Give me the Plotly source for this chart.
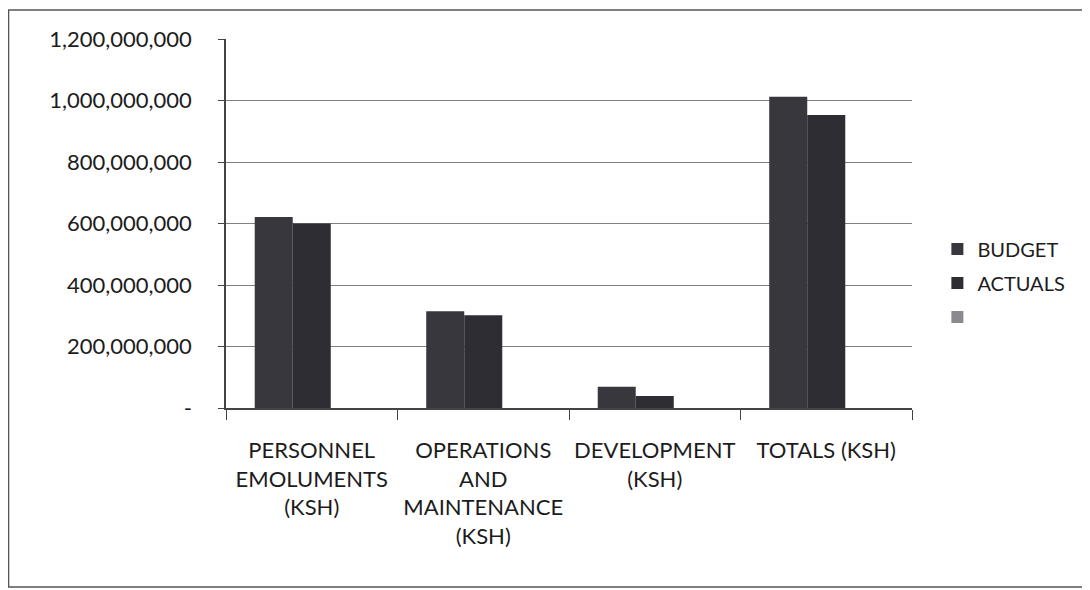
import plotly.graph_objects as go

categories = ["PERSONNEL<br>EMOLUMENTS<br>(KSH)", "OPERATIONS<br>AND<br>MAINTENANCE<br>(KSH)",
              "DEVELOPMENT<br>(KSH)", "TOTALS (KSH)"]
budget = [621_000_000, 315_000_000, 69_000_000, 1_012_000_000]
actuals = [600_000_000, 302_000_000, 39_000_000, 953_000_000]
third = [None, None, None, None]
tick_vals = [0, 200_000_000, 400_000_000, 600_000_000, 800_000_000, 1_000_000_000, 1_200_000_000]
tick_text = ["-", "200,000,000", "400,000,000", "600,000,000", "800,000,000", "1,000,000,000", "1,200,000,000"]

font = "Lato, Open Sans, sans-serif"
txt = "#1c1c1c"

fig = go.Figure()
fig.add_trace(go.Bar(x=categories, y=budget, name="BUDGET", legendgroup="a",
                     marker=dict(color="#37373d", line=dict(width=0))))
fig.add_trace(go.Bar(x=categories, y=actuals, name="ACTUALS", legendgroup="b",
                     marker=dict(color="#2d2d33", line=dict(width=0))))
fig.add_trace(go.Bar(x=categories, y=third, name=" ", legendgroup="c",
                     marker=dict(color="#8a8a8e", line=dict(width=0))))

# browser body margin offsets the figure by 8px; compensate
fig.update_layout(
    width=1082, height=582,
    margin=dict(l=218, r=178, t=31, b=182, autoexpand=False),
    paper_bgcolor="white", plot_bgcolor="white",
    barmode="group", bargap=0.335, bargroupgap=0,
    font=dict(family=font, size=20, color=txt),
    showlegend=True,
    legend=dict(x=1.037, y=0.339, xanchor="left", yanchor="middle",
                font=dict(size=20, family=font, color=txt),
                itemwidth=30, tracegroupgap=5, traceorder="grouped"),
    shapes=[
        dict(type="rect", xref="paper", yref="paper", x0=-0.317, x1=1.3, y0=-0.485, y1=1.0786,
             line=dict(color="#555", width=1.5), fillcolor="rgba(0,0,0,0)", layer="below"),
    ],
)
fig.update_xaxes(
    showline=True, linecolor="#444", linewidth=1.5,
    ticks="outside", ticklen=10, tickcolor="#444", tickson="boundaries",
    tickfont=dict(size=22, family=font, color=txt),
    ticklabelstandoff=22,
    showgrid=False, automargin=False,
)
fig.update_yaxes(
    range=[0, 1_200_000_000], tickvals=tick_vals, ticktext=tick_text,
    showline=True, linecolor="#444", linewidth=1.5,
    ticks="outside", ticklen=6, tickcolor="#444",
    showgrid=True, gridcolor="#808080", gridwidth=1.2,
    zeroline=False, automargin=False,
    tickfont=dict(size=22, family=font, color=txt),
    ticklabelstandoff=22,
)

fig.write_html("out.html")
